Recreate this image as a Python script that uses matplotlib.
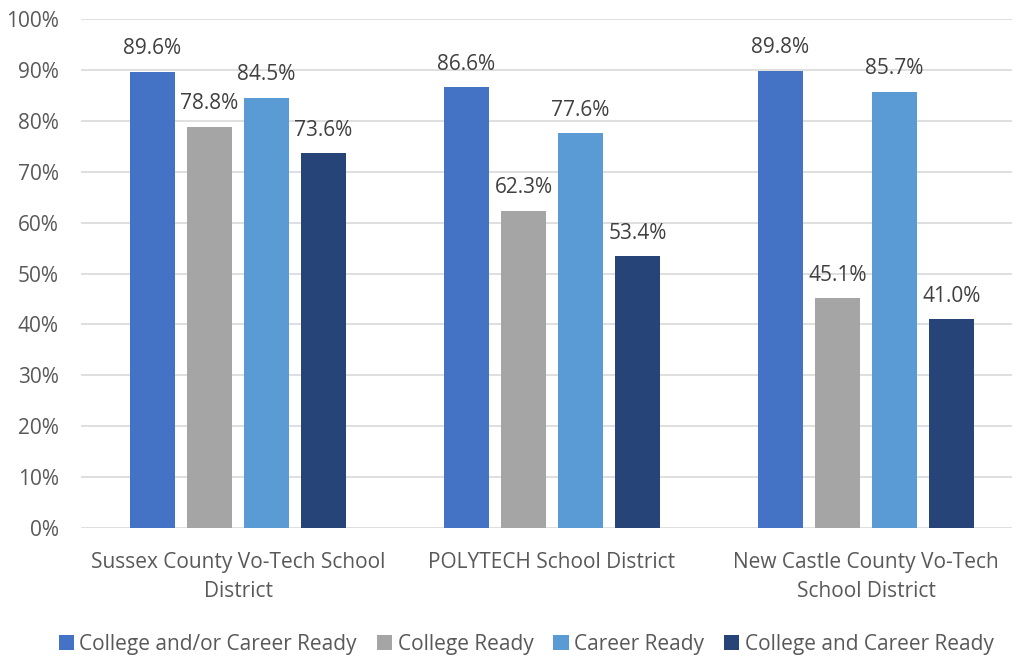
import matplotlib.pyplot as plt
import numpy as np

districts = ['Sussex County Vo-Tech School\nDistrict', 'POLYTECH School District',
             'New Castle County Vo-Tech\nSchool District']
series = ['College and/or Career Ready', 'College Ready', 'Career Ready',
          'College and Career Ready']
either_ready = [89.6, 86.6, 89.8]
college_ready = [78.8, 62.3, 45.1]
career_ready = [84.5, 77.6, 85.7]
both_ready = [73.6, 53.4, 41.0]
colors = ['#4472C4', '#A5A5A5', '#5B9BD5', '#264478']

plt.rcParams['font.family'] = ['Open Sans', 'DejaVu Sans']
txt = '#595959'

fig = plt.figure(figsize=(10.13, 6.56), dpi=100)
ax = fig.add_axes([0.080, 0.195, 0.919, 0.776])

x = np.arange(len(districts))
w = 0.143
step = 0.1815
for i, (vals, name) in enumerate(zip([either_ready, college_ready, career_ready, both_ready], series)):
    pos = x + (i - 1.5) * step
    bars = ax.bar(pos, vals, w, color=colors[i], label=name, zorder=3)
    for b, v in zip(bars, vals):
        ax.annotate(f'{v:.1f}%', (b.get_x() + b.get_width() / 2, v), xytext=(0, 9),
                    textcoords='offset points', ha='center', va='bottom',
                    fontsize=15, color='#404040')

ax.set_ylim(0, 100)
ax.set_xlim(-0.5, 2.465)
ax.set_yticks(range(0, 101, 10))
ax.set_yticklabels([f'{t}%' for t in range(0, 101, 10)])
ax.set_xticks(x)
ax.set_xticklabels(districts, linespacing=1.5)
ax.yaxis.grid(True, color='#D9D9D9', linewidth=1.2, zorder=0)
ax.tick_params(axis='both', length=0, labelsize=15, colors=txt)
ax.tick_params(axis='x', pad=17)
ax.tick_params(axis='y', pad=16)
for s in ax.spines.values():
    s.set_visible(False)

ax.legend(loc='center', bbox_to_anchor=(0.478, -0.228), ncol=4, frameon=False,
          fontsize=15, labelcolor=txt, handlelength=0.75, handleheight=0.75,
          handletextpad=0.25, columnspacing=0.95, borderpad=0)

fig.savefig('out.png', dpi=100)
